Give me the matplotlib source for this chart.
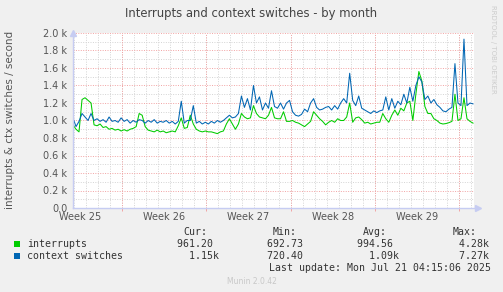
import numpy as np
import matplotlib
matplotlib.use("Agg")
import matplotlib.pyplot as plt

# ─── Dati (un campione ogni 6 ore) ──────────────────────────────────────────
STEP_H = 6
interrupts = [
    950, 900, 870, 1240, 1260, 1230, 1200, 950, 940, 960,
    920, 930, 900, 910, 890, 900, 880, 895, 880, 900,
    910, 930, 1080, 1060, 930, 890, 880, 870, 890, 870,
    880, 860, 870, 880, 870, 940, 1030, 910, 920, 1060,
    960, 900, 880, 870, 880, 870, 870, 860, 850, 870,
    880, 960, 1020, 960, 900, 960, 1080, 1040, 1020, 1030,
    1170, 1080, 1040, 1030, 1020, 1060, 1150, 1030, 1020, 1020,
    1100, 990, 990, 1000, 980, 970, 950, 930, 960, 990,
    1100, 1060, 1020, 990, 950, 980, 1000, 980, 1020, 1000,
    1000, 1040, 1200, 980, 1030, 1040, 1010, 970, 980, 960,
    970, 980, 980, 1080, 1020, 980, 1060, 1120, 1060, 1140,
    1110, 1200, 1220, 1000, 1300, 1560, 1450, 1160, 1080, 1080,
    1020, 1000, 970, 960, 965, 975, 990, 1300, 1000, 1020,
    1260, 1020, 990, 970,
]
ctx_switches = [
    1030, 930, 990, 1080, 1040, 1000, 1080, 1000, 1020, 990,
    1010, 980, 1040, 990, 1000, 980, 1030, 990, 1010, 970,
    1000, 980, 1010, 1000, 970, 1000, 980, 1010, 970, 990,
    980, 1000, 970, 990, 960, 990, 1220, 970, 1000, 1000,
    1170, 970, 990, 960, 980, 960, 990, 970, 1000, 980,
    1000, 1030, 1060, 1030, 1040, 1080, 1280, 1150, 1250, 1120,
    1400, 1200, 1270, 1120, 1200, 1140, 1340, 1160, 1140, 1200,
    1130, 1200, 1230, 1100, 1060, 1050, 1070, 1130, 1100, 1200,
    1250, 1150, 1120, 1130, 1150, 1160, 1120, 1170, 1130, 1200,
    1250, 1200, 1540, 1230, 1170, 1280, 1140, 1120, 1100, 1080,
    1110, 1090, 1110, 1120, 1270, 1120, 1250, 1140, 1220, 1180,
    1300, 1200, 1380, 1220, 1400, 1500, 1440, 1240, 1280, 1200,
    1240, 1180, 1150, 1110, 1100, 1130, 1150, 1650, 1200, 1170,
    1930, 1170, 1200, 1190,
]
assert len(interrupts) == len(ctx_switches)

week_labels = ["Week 25", "Week 26", "Week 27", "Week 28", "Week 29"]
FIRST_WEEK_LINE = 4 + 1 / 12      # giorni dall'inizio del grafico
SPAN_DAYS = 400 / 12

legend_names = ["interrupts", "context switches"]
legend_cur = ["961.20 ", "  1.15k"]
legend_min = ["692.73 ", "720.40 "]
legend_avg = ["994.56 ", "  1.09k"]
legend_max = ["  4.28k", "  7.27k"]
last_update = "Last update: Mon Jul 21 04:15:06 2025"

# ─── Stile ──────────────────────────────────────────────────────────────────
C_INT = "#00CC00"
C_CTX = "#0066B3"
C_BG = "#F0F0F0"
C_MGRID = "#F2A3A3"
C_GRID = "#D4D4D4"
C_AXIS = "#C6CCF2"
C_TXT = "#555555"
DOTS = (0, (1, 1.5))

W, H = 503, 292
fig = plt.figure(figsize=(W / 100, H / 100), dpi=100, facecolor=C_BG)
L, R, T, B = 73, 474, 33, 208
ax = fig.add_axes([L / W, 1 - B / H, (R - L) / W, (B - T) / H])
ax.set_facecolor("white")

days = np.arange(len(interrupts)) * STEP_H / 24

# griglia
for d in np.arange(FIRST_WEEK_LINE - 4, SPAN_DAYS, 1.0):
    ax.axvline(d, color=C_GRID, lw=0.7, ls=DOTS, zorder=1)
for v in np.arange(100, 2000, 200):
    ax.axhline(v, color=C_GRID, lw=0.7, ls=DOTS, zorder=1)
week_lines = FIRST_WEEK_LINE + 7 * np.arange(5)
for d in week_lines:
    ax.axvline(d, color=C_MGRID, lw=0.7, ls=DOTS, zorder=1.5)
for v in np.arange(200, 2001, 200):
    ax.axhline(v, color=C_MGRID, lw=0.7, ls=DOTS, zorder=1.5)

ax.plot(days, interrupts, color=C_INT, lw=0.75, zorder=3)
ax.plot(days, ctx_switches, color=C_CTX, lw=0.75, zorder=4)

ax.set_xlim(0, SPAN_DAYS)
ax.set_ylim(0, 2000)

# assi
for s in ["top", "right"]:
    ax.spines[s].set_visible(False)
for s in ["left", "bottom"]:
    ax.spines[s].set_color(C_AXIS)
    ax.spines[s].set_linewidth(1.0)
    ax.spines[s].set_zorder(5)
ax.plot([0], [1], marker="^", ms=4, color=C_AXIS, transform=ax.transAxes,
        clip_on=False, zorder=6)
ax.plot([1.01], [0], marker=">", ms=4, color=C_AXIS, transform=ax.transAxes,
        clip_on=False, zorder=6)

yt = np.arange(0, 2001, 200)
ax.set_yticks(yt)
ax.set_yticklabels(["0.0"] + [f"{v / 1000:.1f} k" for v in yt[1:]])
ax.tick_params(axis="y", length=0, pad=4, labelsize=7, labelcolor=C_TXT)
ax.set_xticks(week_lines)
ax.set_xticklabels([])
ax.tick_params(axis="x", length=2.5, width=0.7, color=C_MGRID)

for d, lab in zip(week_lines - 3.5, week_labels):
    ax.text(d, -0.025, lab, transform=ax.get_xaxis_transform(),
            ha="center", va="top", fontsize=7, color=C_TXT)

# testi
fig.text(251 / W, 1 - 13 / H, "Interrupts and context switches - by month",
         ha="center", va="center", fontsize=8.4, color="#444444")
fig.text(10 / W, 1 - 120 / H, "interrupts & ctx switches / second",
         rotation=90, ha="center", va="center", fontsize=7.5, color=C_TXT)
fig.text(493 / W, 1 - 5 / H, "RRDTOOL / TOBI OETIKER", rotation=270,
         ha="center", va="top", fontsize=5, color="#CCCCCC")
fig.text(252 / W, 1 - 281 / H, "Munin 2.0.42", ha="center", va="center",
         fontsize=5.5, color="#C8C8C8")

# legenda in stile rrdtool
MONO = "DejaVu Sans Mono"
FS = 7.1
CW = 0.602 * FS * 100 / 72       # larghezza carattere in px
RIGHT = 489                      # bordo destro dell'ultima colonna
y_head, y_rows = 232.3, [244.3, 256.0]
for j, h in enumerate(["Cur:", "Min:", "Avg:", "Max:"]):
    fig.text((183 + 90 * j) / W, 1 - y_head / H, h, family=MONO,
             fontsize=FS, color="#333333", va="center", ha="left")
cols = [legend_cur, legend_min, legend_avg, legend_max]
for i, (name, col) in enumerate(zip(legend_names, [C_INT, C_CTX])):
    yr = 1 - y_rows[i] / H
    fig.patches.append(plt.Rectangle((14 / W, yr - 3 / H), 6 / W, 6 / H,
                                     transform=fig.transFigure,
                                     facecolor=col, edgecolor="none"))
    fig.text(26.7 / W, yr, name, family=MONO, fontsize=FS,
             color="#333333", va="center", ha="left")
    for j, c in enumerate(cols):
        right = RIGHT - 90 * (3 - j)
        fig.text((right - len(c[i]) * CW) / W, yr, c[i],
                 family=MONO, fontsize=FS, color="#333333",
                 va="center", ha="left")
fig.text((RIGHT - len(last_update) * CW) / W, 1 - 268.3 / H,
         last_update, family=MONO, fontsize=FS, color="#333333",
         va="center", ha="left")

fig.savefig("out.png", dpi=100, facecolor=C_BG)
